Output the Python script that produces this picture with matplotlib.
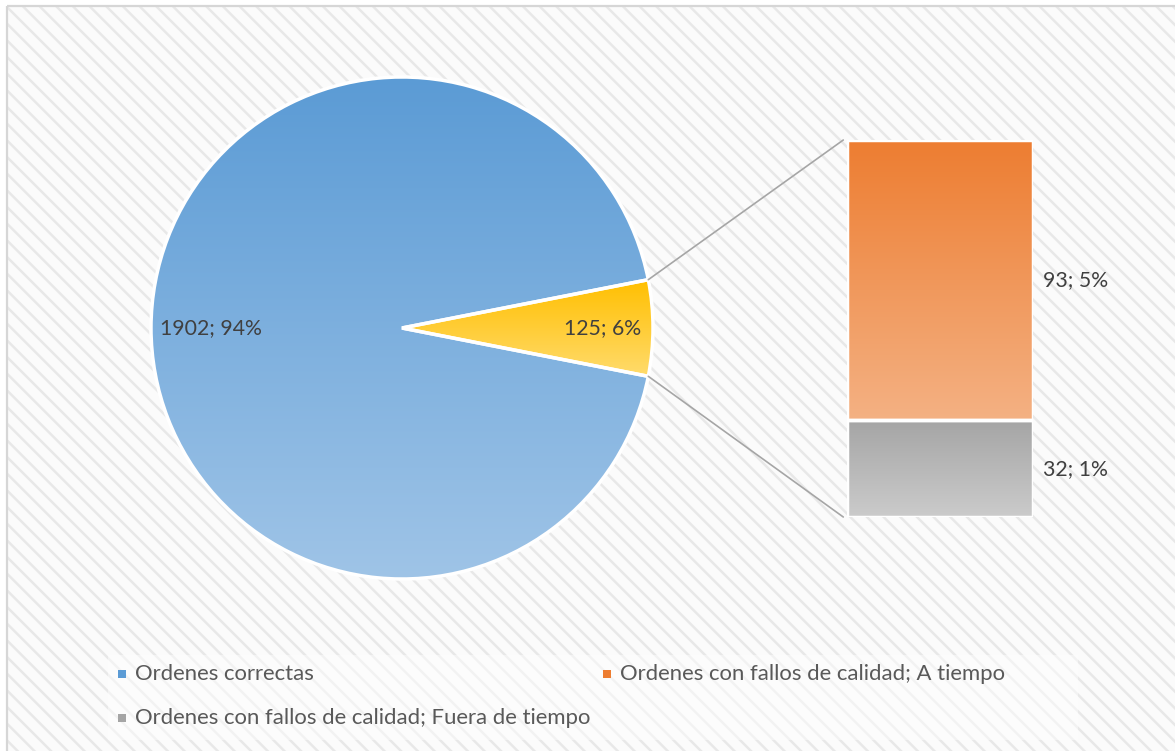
import matplotlib
matplotlib.use("Agg")
import matplotlib.pyplot as plt
import numpy as np
from matplotlib.colors import LinearSegmentedColormap
from matplotlib.patches import Rectangle, ConnectionPatch

plt.rcParams["font.family"] = ["Lato", "DejaVu Sans"]
plt.rcParams["hatch.linewidth"] = 1.8

# Pie: correct orders vs. the grouped quality failures
pie_labels = ["Ordenes correctas", "Otro"]
pie_values = [1902, 125]
pie_pct = [94, 6]

# Bar breaking down the grouped slice
bar_labels = ["Ordenes con fallos de calidad; A tiempo",
              "Ordenes con fallos de calidad; Fuera de tiempo"]
bar_values = [93, 32]
bar_pct = [5, 1]

# gradient (top, bottom) per series
BLUE = ("#5b9bd5", "#9fc4e7")
GOLD = ("#ffbf00", "#ffdb6c")
ORANGE = ("#ed7d31", "#f4b183")
GREY = ("#a5a5a5", "#cbcbcb")
LABEL = "#404040"
LEGEND_INK = "#595959"
W, H = 1175, 751


def gradient_fill(ax, patch, colors, extent):
    cmap = LinearSegmentedColormap.from_list("g", [colors[1], colors[0]])
    im = ax.imshow(np.linspace(0, 1, 256).reshape(-1, 1), cmap=cmap,
                   extent=extent, origin="lower", aspect="auto",
                   interpolation="bilinear", zorder=2)
    im.set_clip_path(patch)


fig = plt.figure(figsize=(W / 100, H / 100), dpi=100)

# background panel, pixel coordinates
bg = fig.add_axes([0, 0, 1, 1])
bg.set_xlim(0, W)
bg.set_ylim(H, 0)
bg.axis("off")
bg.add_patch(Rectangle((7, 6), W, H, facecolor="#fbfbfb", edgecolor="#e8e8e8",
                       hatch="\\\\", linewidth=0, zorder=0))
bg.add_patch(Rectangle((7, 6), W, H, facecolor="none", edgecolor="#d6d6d6",
                       linewidth=1.6, zorder=1))

# pie (radius 251 px, centre at 402, 328)
r_px, cx, cy = 251, 402, 328
box = 1.02 * r_px
pie_ax = fig.add_axes([(cx - box) / W, (H - cy - box) / H, 2 * box / W, 2 * box / H])
small_deg = 360 * pie_values[1] / sum(pie_values)
wedges, _ = pie_ax.pie(pie_values[::-1], startangle=-small_deg / 2,
                       radius=1, colors=["none", "none"],
                       wedgeprops=dict(edgecolor="white", linewidth=2.5, zorder=3))
gold_w, blue_w = wedges
gradient_fill(pie_ax, blue_w, BLUE, (-1, 1, -1, 1))
half = np.sin(np.radians(small_deg / 2))
gradient_fill(pie_ax, gold_w, GOLD, (0, 1, -half, half))
pie_ax.set_xlim(-1.02, 1.02)
pie_ax.set_ylim(-1.02, 1.02)
pie_ax.axis("off")

for w, v, p, dist in zip(wedges, pie_values[::-1], pie_pct[::-1], [0.8, 0.76]):
    mid = np.radians((w.theta1 + w.theta2) / 2)
    pie_ax.text(dist * np.cos(mid), dist * np.sin(mid), f"{v}; {p}%",
                ha="center", va="center", fontsize=15.3, color=LABEL, zorder=4)

# stacked bar of the small slice
bar_ax = fig.add_axes([847 / W, (H - 517) / H, 186 / W, 377 / H])
bottom = 0
for v, p, c in zip(bar_values[::-1], bar_pct[::-1], [GREY, ORANGE]):
    b = bar_ax.bar(0, v, bottom=bottom, width=1, color="none",
                   edgecolor="white", linewidth=2.5, zorder=3)[0]
    gradient_fill(bar_ax, b, c, (-0.5, 0.5, bottom, bottom + v))
    bar_ax.text(0.73, bottom + v / 2, f"{v}; {p}%", ha="center", va="center",
                fontsize=15.3, color=LABEL, clip_on=False)
    bottom += v
bar_ax.set_xlim(-0.5, 0.5)
bar_ax.set_ylim(0, sum(bar_values))
bar_ax.axis("off")

# leader lines from the slice edges to the bar corners
for ang, ybar in [(small_deg / 2, sum(bar_values)), (-small_deg / 2, 0)]:
    a = np.radians(ang)
    con = ConnectionPatch(xyA=(np.cos(a), np.sin(a)), coordsA=pie_ax.transData,
                          xyB=(-0.52, ybar), coordsB=bar_ax.transData,
                          color="#a6a6a6", linewidth=1.2, zorder=1)
    fig.add_artist(con)

# legend
bg.add_patch(Rectangle((108, 655), 970, 85, facecolor="white", alpha=0.45,
                       linewidth=0, zorder=1))
legend_items = [(pie_labels[0], BLUE, 118, 674),
                (bar_labels[0], ORANGE, 603, 674),
                (bar_labels[1], GREY, 118, 718)]
for text, c, x, y in legend_items:
    bg.add_patch(Rectangle((x, y - 4), 8, 8, facecolor=c[0], linewidth=0, zorder=2))
    bg.text(x + 17, y, text, ha="left", va="center", fontsize=15.9,
            color=LEGEND_INK, zorder=2)

fig.savefig("out.png", dpi=100)
